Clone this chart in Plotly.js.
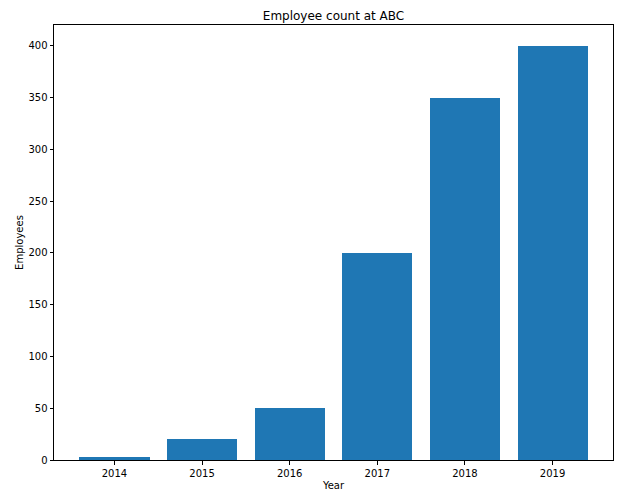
<!DOCTYPE html>
<html>
<head>
<meta charset="utf-8">
<script src="https://cdn.plot.ly/plotly-3.0.1.min.js"></script>
<style>html,body{margin:0;padding:0;background:#fff;}#chart{width:630px;height:503px;}</style>
</head>
<body>
<div id="chart"></div>
<script>
const years = ["2014", "2015", "2016", "2017", "2018", "2019"];
const employees = [3, 20, 50, 200, 350, 400];
const yTicks = [0, 50, 100, 150, 200, 250, 300, 350, 400];

const xIdx = years.map((_, i) => i);

const trace = {
  type: 'bar',
  x: xIdx,
  y: employees,
  width: 0.8,
  marker: {color: '#1f77b4', line: {width: 0}},
  hoverinfo: 'x+y'
};

const layout = {
  width: 630,
  height: 503,
  margin: {l: 54, r: 17, t: 25, b: 43},
  paper_bgcolor: '#ffffff',
  plot_bgcolor: '#ffffff',
  font: {family: 'DejaVu Sans, sans-serif', size: 10, color: '#000'},
  title: {text: 'Employee count at ABC', font: {size: 12, color: '#000'}, x: 0.5, xref: 'paper', y: 1, yref: 'paper', yanchor: 'bottom', pad: {b: 5}},
  showlegend: false,
  bargap: 0,
  xaxis: {
    range: [-0.69, 5.69],
    tickmode: 'array',
    tickvals: xIdx,
    ticktext: years,
    showgrid: false,
    zeroline: false,
    showline: true,
    linecolor: '#000',
    linewidth: 1,
    mirror: true,
    ticks: 'outside',
    ticklen: 3.5,
    tickcolor: '#000',
    tickfont: {size: 10},
    title: {text: 'Year', font: {size: 10}, standoff: 4}
  },
  yaxis: {
    range: [0, 420],
    tickmode: 'array',
    tickvals: yTicks,
    ticktext: yTicks.map(String),
    showgrid: false,
    zeroline: false,
    showline: true,
    linecolor: '#000',
    linewidth: 1,
    mirror: true,
    ticks: 'outside',
    ticklen: 3.5,
    tickcolor: '#000',
    tickfont: {size: 10},
    title: {text: 'Employees', font: {size: 10}, standoff: 2}
  }
};

Plotly.newPlot('chart', [trace], layout, {displayModeBar: false, staticPlot: true});
</script>
</body>
</html>
